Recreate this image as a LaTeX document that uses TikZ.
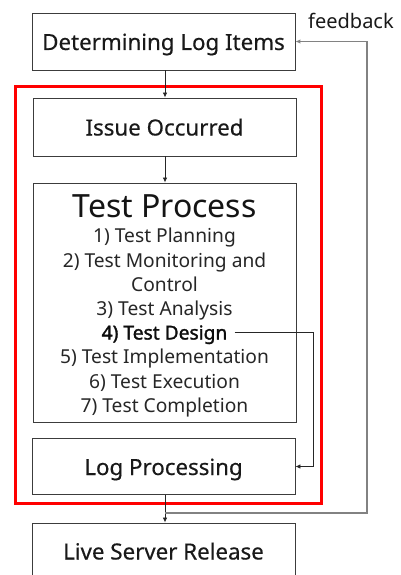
\documentclass[tikz,border=0pt]{standalone}
\usepackage{fontspec}
\setmainfont{Noto Sans}
\newfontfamily\medfont[FakeBold=0.4]{Noto Sans}
\newfontfamily\strongfont[FakeBold=1.6]{Noto Sans}
\usetikzlibrary{arrows.meta,calc}
\definecolor{boxline}{RGB}{60,60,60}
\definecolor{fbgray}{RGB}{130,130,130}
\definecolor{redline}{RGB}{255,0,0}
\tikzset{
  box/.style={draw=boxline, line width=0.9pt, minimum width=263pt, inner sep=0pt,
    text height=20pt, text depth=3pt, font=\medfont\fontsize{22.3}{24}\selectfont, text=black!90},
  item/.style={anchor=base, inner sep=0pt, font=\fontsize{19.2}{22}\selectfont, text=black!85},
  conn/.style={draw=black!85, line width=0.8pt, -{Latex[length=5pt,width=4.5pt]}},
  fb/.style={draw=fbgray, line width=1.1pt, -{Latex[length=5pt,width=4.5pt]}, color=fbgray},
}
\begin{document}
\begin{tikzpicture}[x=1pt,y=-1pt]
\useasboundingbox (0,0) rectangle (400,575);
\clip (0,0) rectangle (400,575);
% red frame
\draw[redline, line width=3pt] (15,87) rectangle (321,503);
% boxes
\node[box, minimum height=57pt] (items) at (163.5,41.5) {Determining Log Items};
\node[box, minimum height=58pt] (issue) at (164.5,127) {Issue Occurred};
\node[draw=boxline, line width=0.9pt, minimum width=263pt, minimum height=239pt, inner sep=0pt] (tp) at (164.5,302.5) {};
\node[box, minimum height=56pt] (lp) at (163.5,466.5) {Log Processing};
\node[box, minimum height=56pt] (live) at (163.5,551) {Live Server Release};
% test process text
\node[anchor=base, inner sep=0pt, font=\fontsize{32}{34}\selectfont, text=black!92] (tptitle) at (164.5,217.7) {Test Process};
\node[item] (s1) at (164.5,242.7) {1) Test Planning};
\node[item] (s2) at (164.5,267) {2) Test Monitoring and};
\node[item] (s2b) at (164.5,291.5) {Control};
\node[item] (s3) at (164.5,315.7) {3) Test Analysis};
\node[item, font=\strongfont\fontsize{19.2}{22}\selectfont, text=black!95] (s4) at (164.5,339.5) {4) Test Design};
\node[item] (s5) at (164.5,363.5) {5) Test Implementation};
\node[item] (s6) at (164.5,388) {6) Test Execution};
\node[item] (s7) at (164.5,412.3) {7) Test Completion};
% feedback label
\node[anchor=base, inner sep=0pt, font=\fontsize{20}{22}\selectfont, text=black!90] (fblabel) at (351,28.5) {feedback};
% connectors
\draw[conn] (items.south -| 165,0) -- (issue.north -| 165,0);
\draw[conn] (issue.south -| 165,0) -- (tp.north -| 165,0);
\draw[conn] (lp.south -| 165,0) -- (live.north -| 165,0);
\coordinate (join) at (165,513);
\coordinate (fbc) at (367,513);
\draw[fb] (join) -- (fbc) |- (items.east);
\coordinate (tdc) at (313,332);
\coordinate (tds) at ($(s4.east)+(7,0)$);
\draw[conn] (tds |- tdc) -- (tdc) |- (lp.east);
\end{tikzpicture}
\end{document}
